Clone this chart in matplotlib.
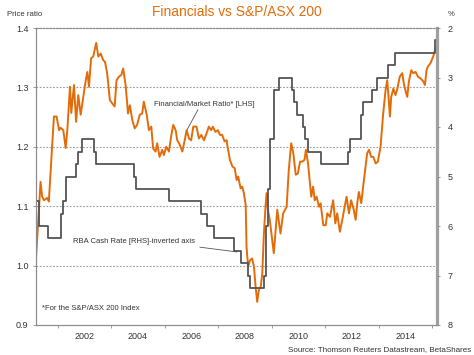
import matplotlib
matplotlib.use('Agg')
import matplotlib.pyplot as plt

plt.rcParams['font.family'] = ['Liberation Sans', 'DejaVu Sans']

# Financial/Market ratio (LHS), decimal years
ratio_years = [2000.18, 2000.36, 2000.42, 2000.49, 2000.61, 2000.67, 2000.86, 2000.96,
               2001.05, 2001.11, 2001.21, 2001.30, 2001.36, 2001.46, 2001.51, 2001.61,
               2001.69, 2001.77, 2001.86, 2001.96, 2002.05, 2002.11, 2002.17, 2002.25,
               2002.33, 2002.44, 2002.52, 2002.61, 2002.70, 2002.77, 2002.85, 2002.95,
               2003.04, 2003.13, 2003.20, 2003.29, 2003.38, 2003.45, 2003.54, 2003.63,
               2003.70, 2003.79, 2003.88, 2003.97, 2004.07, 2004.16, 2004.22, 2004.33,
               2004.41, 2004.50, 2004.57, 2004.66, 2004.72, 2004.81, 2004.91, 2004.97,
               2005.06, 2005.16, 2005.24, 2005.32, 2005.41, 2005.47, 2005.57, 2005.66,
               2005.75, 2005.82, 2005.91, 2005.99, 2006.07, 2006.19, 2006.28, 2006.37,
               2006.47, 2006.57, 2006.65, 2006.74, 2006.80, 2006.90, 2006.99, 2007.07,
               2007.15, 2007.24, 2007.32, 2007.34, 2007.44, 2007.53, 2007.62, 2007.69,
               2007.75, 2007.84, 2007.90, 2007.96, 2008.03, 2008.06, 2008.12, 2008.19,
               2008.27, 2008.34, 2008.40, 2008.46, 2008.52, 2008.59, 2008.65, 2008.71,
               2008.77, 2008.81, 2008.86, 2008.93, 2009.02, 2009.08, 2009.21, 2009.33,
               2009.43, 2009.56, 2009.64, 2009.73, 2009.81, 2009.90, 2009.98, 2010.06,
               2010.14, 2010.23, 2010.28, 2010.36, 2010.43, 2010.48, 2010.55, 2010.61,
               2010.68, 2010.77, 2010.83, 2010.93, 2011.02, 2011.08, 2011.18, 2011.23,
               2011.30, 2011.38, 2011.45, 2011.55, 2011.64, 2011.73, 2011.80, 2011.89,
               2011.97, 2012.07, 2012.14, 2012.20, 2012.26, 2012.35, 2012.42, 2012.51,
               2012.57, 2012.64, 2012.72, 2012.80, 2012.89, 2012.97, 2013.07, 2013.17,
               2013.26, 2013.32, 2013.37, 2013.42, 2013.47, 2013.55, 2013.63, 2013.69,
               2013.79, 2013.88, 2013.94, 2014.01, 2014.07, 2014.13, 2014.22, 2014.29,
               2014.38, 2014.47, 2014.57, 2014.67, 2014.73, 2014.79, 2014.84, 2014.94,
               2015.04, 2015.13, 2015.17]
ratio_values = [1.004, 1.141, 1.116, 1.110, 1.114, 1.108, 1.251, 1.251,
                1.228, 1.232, 1.228, 1.198, 1.228, 1.301, 1.257, 1.304,
                1.242, 1.287, 1.254, 1.284, 1.312, 1.326, 1.301, 1.349,
                1.352, 1.375, 1.352, 1.357, 1.346, 1.343, 1.324, 1.279,
                1.273, 1.268, 1.312, 1.318, 1.321, 1.332, 1.304, 1.256,
                1.270, 1.245, 1.231, 1.237, 1.254, 1.256, 1.276, 1.254,
                1.228, 1.234, 1.197, 1.192, 1.206, 1.183, 1.195, 1.186,
                1.200, 1.192, 1.217, 1.237, 1.228, 1.211, 1.203, 1.192,
                1.211, 1.228, 1.214, 1.211, 1.234, 1.234, 1.214, 1.220,
                1.211, 1.223, 1.234, 1.228, 1.234, 1.225, 1.228, 1.220,
                1.220, 1.209, 1.211, 1.203, 1.178, 1.167, 1.164, 1.144,
                1.150, 1.130, 1.133, 1.122, 1.102, 1.032, 0.998, 1.009,
                1.012, 0.998, 0.964, 0.939, 0.959, 0.964, 0.987, 1.054,
                1.099, 1.122, 1.094, 1.077, 1.043, 1.021, 1.094, 1.054,
                1.088, 1.099, 1.161, 1.206, 1.189, 1.153, 1.155, 1.175,
                1.175, 1.178, 1.195, 1.172, 1.139, 1.116, 1.133, 1.110,
                1.116, 1.099, 1.105, 1.068, 1.068, 1.088, 1.082, 1.094,
                1.110, 1.071, 1.088, 1.057, 1.077, 1.099, 1.116, 1.088,
                1.110, 1.094, 1.077, 1.105, 1.124, 1.105, 1.133, 1.167,
                1.189, 1.195, 1.183, 1.183, 1.172, 1.175, 1.200, 1.256,
                1.296, 1.312, 1.284, 1.251, 1.284, 1.298, 1.287, 1.296,
                1.318, 1.324, 1.307, 1.293, 1.284, 1.310, 1.329, 1.324,
                1.326, 1.318, 1.315, 1.310, 1.304, 1.329, 1.335, 1.341,
                1.352, 1.366, 1.369]

# RBA cash rate (RHS, inverted), change points
rate_years = [2000.18, 2000.30, 2000.62, 2001.13, 2001.21, 2001.30, 2001.68, 2001.76,
              2001.92, 2002.37, 2002.45, 2003.85, 2003.93, 2005.17, 2006.35, 2006.60,
              2006.85, 2007.60, 2007.85, 2008.10, 2008.18, 2008.70, 2008.77, 2008.85,
              2008.93, 2009.09, 2009.26, 2009.76, 2009.84, 2009.93, 2010.18, 2010.26,
              2010.34, 2010.84, 2011.84, 2011.93, 2012.34, 2012.43, 2012.76, 2012.93,
              2013.34, 2013.60, 2015.09, 2015.17]
rate_values = [5.5, 6.0, 6.25, 5.75, 5.5, 5.0, 4.75, 4.5,
               4.25, 4.5, 4.75, 5.0, 5.25, 5.5, 5.75, 6.0,
               6.25, 6.5, 6.75, 7.0, 7.25, 7.0, 6.0, 5.25,
               4.25, 3.25, 3.0, 3.25, 3.5, 3.75, 4.0, 4.25,
               4.5, 4.75, 4.5, 4.25, 3.75, 3.5, 3.25, 3.0,
               2.75, 2.5, 2.25, 2.25]

year_ticks = [2002, 2004, 2006, 2008, 2010, 2012, 2014]
left_ticks = [0.9, 1.0, 1.1, 1.2, 1.3, 1.4]
right_ticks = [2, 3, 4, 5, 6, 7, 8]

orange = '#E36C0A'
grey = '#555555'
axis_grey = '#8c8c8c'

fig = plt.figure(figsize=(4.74, 3.55), dpi=100)
ax = fig.add_axes([36/474, 1-325/355, (437.5-36)/474, (325-28)/355])
ax2 = ax.twinx()

ax.plot(ratio_years, ratio_values, color=orange, lw=1.4, zorder=3)
ax2.plot(rate_years, rate_values, color=grey, lw=1.3, drawstyle='steps-post', zorder=2)

ax.set_xlim(2000.19, 2015.2)
ax.set_ylim(0.9, 1.4)
ax2.set_ylim(8, 2)

ax.set_xticks(year_ticks)
ax.set_xticks(range(2001, 2016), minor=True)
ax.set_yticks(left_ticks)
ax.set_yticklabels(['%.1f' % v for v in left_ticks])
ax2.set_yticks(right_ticks)

for y in [1.0, 1.1, 1.2, 1.3]:
    ax.axhline(y, color='#9a9a9a', lw=0.8, ls=(0, (1.5, 1.5)), zorder=1)

for a in (ax, ax2):
    a.spines['top'].set_color(axis_grey)
    a.spines['top'].set_linestyle((0, (1.5, 1.5)))
    a.spines['top'].set_linewidth(0.8)
    a.spines['bottom'].set_color(axis_grey)
    a.spines['bottom'].set_linewidth(0.8)
    a.spines['left'].set_color(axis_grey)
    a.spines['left'].set_linewidth(0.8)
    a.spines['right'].set_color('#a0a0a0')
    a.spines['right'].set_linewidth(1.6)

ax.tick_params(axis='both', labelsize=6.5, colors='#333333', length=2.5, width=0.6, pad=3)
ax.tick_params(axis='x', which='minor', length=2, width=0.6, color=axis_grey)
ax.tick_params(axis='x', which='major', length=0, pad=5)
ax.tick_params(axis='y', color=axis_grey)
ax2.tick_params(axis='y', labelsize=6.5, colors='#333333', length=2.5, width=0.6, pad=5)
ax2.tick_params(axis='y', color=axis_grey)

fig.text(237/474, 1-12/355, 'Financials vs S&P/ASX 200', color=orange,
         fontsize=9.9, ha='center', va='center')
fig.text(7/474, 1-14/355, 'Price ratio', fontsize=5.6, color='#333333', va='center')
fig.text(448/474, 1-14/355, '%', fontsize=5.6, color='#333333', va='center')
fig.text(471/474, 1-350/355, 'Source: Thomson Reuters Datastream, BetaShares',
         fontsize=5.8, color='#333333', ha='right', va='center')

ax.text(2004.60, 1.272, 'Financial/Market Ratio* [LHS]', fontsize=5.5,
        color='#333333', va='center')
ax.plot([2006.24, 2005.83], [1.262, 1.228], color='#555555', lw=0.6)
ax.text(2001.57, 1.040, 'RBA Cash Rate [RHS]-inverted axis', fontsize=5.5,
        color='#333333', va='center')
ax.plot([2006.32, 2007.70], [1.031, 1.023], color='#555555', lw=0.6)
ax.text(2000.41, 0.927, '*For the S&P/ASX 200 Index', fontsize=5.5,
        color='#333333', va='center')

fig.savefig('out.png', dpi=100)
